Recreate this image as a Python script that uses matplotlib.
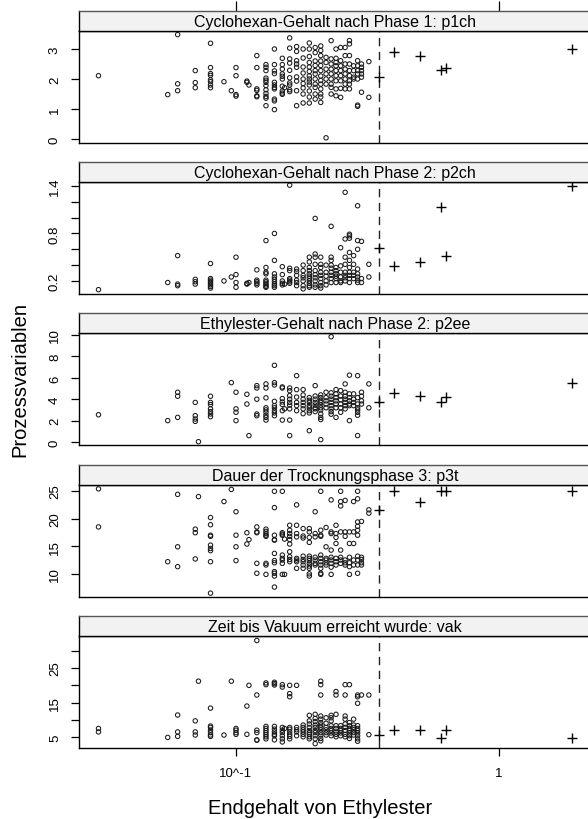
import numpy as np
import matplotlib
matplotlib.use("Agg")
import matplotlib.pyplot as plt

plt.rcParams['font.family'] = ['Liberation Sans', 'DejaVu Sans']

# x levels of "Endgehalt von Ethylester"
x_levels = [0.03, 0.055, 0.06, 0.07, 0.072, 0.08, 0.09, 0.096, 0.10, 0.11, 0.112,
            0.12, 0.13, 0.14, 0.15, 0.153, 0.16, 0.17, 0.18, 0.19, 0.20, 0.21,
            0.22, 0.23, 0.24, 0.25, 0.26, 0.27, 0.28, 0.29, 0.30, 0.32]
x_plus = [0.35, 0.40, 0.50, 0.60, 0.63, 1.9]
threshold = 0.35

p1ch = [[2.11], [1.48], [3.48, 1.84, 1.61], [2.28, 1.88, 1.71], [],
        [3.19, 2.38, 2.18, 2.12, 1.97, 1.91, 1.80, 1.71], [1.91], [1.61],
        [2.38, 2.11, 1.48, 1.43], [1.93, 1.89], [1.80],
        [2.78, 2.38, 1.67, 1.62, 1.44, 1.41],
        [2.48, 2.39, 2.28, 2.03, 1.96, 1.89, 1.78, 1.64, 1.52, 1.42, 1.36, 1.11],
        [3.00, 2.48, 2.27, 2.18, 1.89, 1.80, 1.72, 1.67, 1.33, 1.27, 0.98],
        [2.69, 2.48, 2.33, 2.17, 2.09, 2.00, 1.76, 1.60, 1.53, 1.49], [1.71],
        [3.37, 3.03, 2.67, 2.53, 2.29, 2.04, 1.87, 1.80, 1.64, 1.58],
        [3.08, 2.92, 2.61, 2.50, 2.39, 2.07, 1.93, 1.61, 1.11],
        [3.00, 2.70, 2.40, 2.20, 2.00, 1.85, 1.70, 1.50, 1.20],
        [3.20, 3.00, 2.75, 2.55, 2.40, 2.25, 2.10, 2.00, 1.90, 1.80, 1.60, 1.40, 1.20],
        [3.05, 2.88, 2.60, 2.45, 2.28, 2.17, 2.00, 1.83, 1.72, 1.50, 1.33],
        [3.10, 2.95, 2.78, 2.60, 2.45, 2.28, 2.10, 1.95, 1.83, 1.67, 1.50, 1.40, 1.22],
        [2.72, 2.55, 2.33, 2.17, 2.00, 1.83, 0.04],
        [3.28, 2.67, 2.50, 2.33, 2.17, 2.00, 1.83, 1.72, 1.50],
        [3.00, 2.69, 2.55, 2.44, 2.28, 2.11, 1.94, 1.67, 1.44],
        [3.05, 2.61, 2.44, 2.28, 2.11, 1.94, 1.69, 1.39],
        [3.05, 2.78, 2.50, 2.33, 2.17, 2.00, 1.83, 1.67],
        [3.28, 3.17, 2.78, 2.50, 2.28, 2.11, 1.94, 1.83, 1.67],
        [2.44, 2.28, 2.06, 2.00],
        [2.61, 2.44, 2.28, 2.17, 2.00, 1.13, 1.09],
        [2.50, 2.39, 2.28, 2.17, 2.06, 1.56],
        [2.58, 1.39]]
p1ch_plus = [2.06, 2.89, 2.76, 2.29, 2.36, 2.99]

p2ch = [[0.09], [0.18], [0.52, 0.16, 0.14], [0.22, 0.19, 0.16], [],
        [0.42, 0.23, 0.21, 0.19, 0.17, 0.15, 0.13, 0.11], [0.20], [0.25],
        [0.50, 0.28, 0.18, 0.12], [0.16, 0.17], [0.18],
        [0.34, 0.21, 0.19, 0.17, 0.15],
        [0.71, 0.37, 0.31, 0.29, 0.21, 0.19, 0.17, 0.15, 0.13, 0.12],
        [0.80, 0.46, 0.29, 0.25, 0.22, 0.19, 0.16, 0.14, 0.12],
        [0.38, 0.28, 0.20, 0.17, 0.15], [0.16],
        [1.41, 0.36, 0.33, 0.23, 0.21, 0.19, 0.17],
        [0.35, 0.32, 0.27, 0.21, 0.18, 0.14],
        [0.40, 0.33, 0.27, 0.24, 0.20, 0.14, 0.10],
        [0.50, 0.44, 0.37, 0.33, 0.29, 0.26, 0.23, 0.20, 0.17, 0.14, 0.12],
        [0.99, 0.54, 0.50, 0.41, 0.33, 0.28, 0.24, 0.20, 0.15, 0.12],
        [0.50, 0.41, 0.37, 0.31, 0.27, 0.23, 0.18, 0.14, 0.11],
        [0.40, 0.31, 0.26, 0.20, 0.15],
        [0.89, 0.50, 0.46, 0.40, 0.36, 0.31, 0.27, 0.23, 0.18],
        [0.37, 0.33, 0.29, 0.26, 0.23, 0.18],
        [0.62, 0.39, 0.31, 0.25, 0.20, 0.18],
        [1.32, 0.73, 0.50, 0.41, 0.31, 0.27, 0.24, 0.20],
        [0.79, 0.77, 0.74, 0.56, 0.46, 0.37, 0.31, 0.27, 0.23, 0.18],
        [0.52, 0.41, 0.31, 0.27, 0.23],
        [1.15, 0.71, 0.60, 0.35, 0.29, 0.25, 0.21, 0.18],
        [0.70, 0.23, 0.18],
        [0.41, 0.25]]
p2ch_plus = [0.62, 0.39, 0.44, 1.14, 0.52, 1.40]

p2ee = [[2.55], [2.0], [4.65, 4.28, 2.3], [3.7, 2.46, 2.15, 1.93], [0.03],
        [4.28, 3.7, 3.5, 3.1, 2.84, 2.62, 2.37], [], [5.55],
        [4.65, 3.1, 2.78, 2.0], [4.46, 3.55], [0.6],
        [5.27, 5.05, 4.0, 2.62, 2.46],
        [5.43, 5.05, 4.13, 3.2, 3.0, 2.78, 2.5, 2.3, 2.05],
        [7.17, 5.55, 5.33, 3.8, 3.4, 3.2, 2.93, 2.72, 2.46],
        [5.15, 5.05, 4.06, 3.74, 3.5, 2.93, 2.05], [3.1],
        [5.05, 4.8, 4.33, 4.0, 3.7, 3.45, 3.1, 2.05, 0.6],
        [6.2, 4.9, 4.2, 3.7, 3.4, 2.93],
        [4.9, 4.4, 4.0, 3.7, 3.4, 3.1, 2.65],
        [4.15, 3.9, 3.7, 3.4, 3.2, 2.93, 2.72, 1.06],
        [5.27, 4.3, 4.0, 3.7, 3.45, 3.2, 3.1, 2.84],
        [4.4, 4.15, 3.9, 3.7, 3.45, 3.2, 3.0, 2.62, 2.3, 2.1, 0.22],
        [4.65, 4.15, 3.85, 3.55, 3.2],
        [9.84, 4.6, 4.28, 4.0, 3.7, 3.4, 3.1, 2.84, 2.6],
        [4.9, 4.5, 4.15, 3.85, 3.55, 3.2, 2.3],
        [4.8, 4.3, 3.95, 3.55, 3.2, 2.78],
        [5.43, 4.65, 4.28, 4.0, 3.7, 3.4, 3.1],
        [6.25, 4.5, 4.15, 3.85, 3.55, 3.4, 2.0],
        [4.5, 4.0, 3.7, 3.4],
        [6.2, 4.15, 3.55, 3.2, 3.0, 2.78, 2.5, 0.6],
        [4.65, 4.28, 3.85, 3.55],
        [5.43, 3.2]]
p2ee_plus = [3.77, 4.55, 4.33, 3.77, 4.24, 5.55]

p3t = [[25.4, 18.5], [12.2], [24.4, 14.9, 11.3], [18.1, 17.45, 12.7], [24.0],
       [20.2, 18.9, 17.0, 16.8, 15.2, 14.6, 14.2, 12.2, 6.5], [23.1], [25.3],
       [21.25, 17.0, 14.9, 12.4], [17.45, 15.4], [16.2],
       [18.5, 17.6, 17.45, 11.9, 10.1],
       [18.1, 17.7, 17.3, 17.0, 16.8, 11.9, 11.6, 9.9],
       [24.96, 22.0, 17.0, 16.2, 16.1, 13.7, 12.4, 12.0, 10.4, 10.1, 9.6, 7.6],
       [24.96, 17.45, 17.2, 17.0, 13.4, 12.8, 12.5, 11.9, 9.9], [16.3, 9.9],
       [18.8, 17.9, 17.3, 16.8, 16.2, 15.4, 14.0, 13.1, 12.6, 12.2],
       [22.5, 18.8, 17.3, 16.7, 12.8, 12.5, 12.2, 11.0],
       [18.2, 16.85, 16.5, 13.2, 12.6, 12.2, 11.6, 11.0],
       [18.2, 17.6, 16.6, 15.7, 13.2, 12.8, 12.4, 11.9, 11.4, 11.0, 10.0, 9.6],
       [21.25, 17.3, 16.7, 13.0, 12.5, 11.9, 11.6],
       [24.96, 17.9, 17.0, 16.8, 13.4, 12.8, 12.2, 11.6, 11.0, 10.1, 9.9],
       [18.4, 14.9, 12.8, 12.5, 12.0, 11.6],
       [23.4, 17.6, 17.3, 14.3, 13.0, 12.5, 11.9, 11.2, 9.9],
       [18.8, 17.3, 16.6, 15.5, 12.8, 12.2, 11.6],
       [24.96, 23.1, 22.3, 17.6, 14.3, 13.0, 12.5, 11.9],
       [23.3, 17.6, 16.8, 12.5, 12.0, 11.6],
       [17.6, 15.5, 13.0, 12.0, 11.3, 9.9],
       [23.1, 17.6, 15.5, 12.5, 11.6],
       [24.96, 23.6, 19.4, 18.6, 17.9, 17.0, 13.2, 12.5, 11.6, 10.1],
       [19.5, 13.0, 12.6, 12.0, 11.6],
       [21.6, 21.0]]
p3t_plus = [21.6, 25.0, 22.95, 25.0, 25.0, 25.0]

vak = [[7.5, 6.5], [4.9], [11.4, 6.5, 5.2], [9.7, 6.5, 5.6], [21.2],
       [13.4, 8.2, 7.8, 7.0, 6.3, 5.6, 5.2], [5.6], [21.2],
       [7.5, 7.0, 6.3, 5.8], [14.0, 5.8], [20.0],
       [33.0, 17.2, 7.0, 6.3, 4.2, 4.1],
       [20.7, 20.2, 8.1, 7.5, 6.9, 6.3, 5.7, 5.1, 4.5],
       [20.9, 20.5, 20.1, 8.1, 7.3, 6.5, 5.8, 5.4, 4.2],
       [20.2, 19.5, 7.8, 7.0, 6.3, 5.4, 4.5, 3.6], [7.5],
       [20.0, 17.6, 16.7, 7.8, 7.3, 6.5, 5.8, 5.2, 4.5],
       [20.0, 7.8, 7.1, 6.5, 5.4],
       [8.5, 7.8, 7.1, 6.5, 5.8, 5.1],
       [11.3, 9.7, 8.8, 7.8, 6.9, 6.3, 5.8, 5.1, 4.5],
       [11.6, 10.4, 9.5, 8.5, 7.8, 6.9, 6.3, 5.4, 4.5, 3.1],
       [21.2, 20.2, 17.2, 11.1, 10.2, 9.2, 8.5, 7.8, 7.1, 6.3, 5.6, 4.6, 3.9],
       [10.6, 9.0, 7.8, 7.1, 6.3, 5.6],
       [11.3, 10.6, 9.7, 8.3, 7.5, 6.9, 6.2, 5.4],
       [18.2, 17.2, 11.6, 8.3, 7.5, 6.5, 5.8, 5.1],
       [8.3, 7.5, 6.9, 6.2, 5.4],
       [20.2, 17.2, 11.1, 10.2, 8.8, 7.8, 6.9, 5.8, 5.1],
       [20.2, 9.2, 8.3, 7.5, 6.9, 6.2, 5.4, 4.6],
       [10.2, 8.5, 7.8, 7.1, 6.3, 5.6],
       [17.2, 16.7, 14.8, 8.3, 7.5, 6.9, 6.2, 5.4, 4.5, 3.8],
       [17.2],
       [17.2, 5.7]]
vak_plus = [5.6, 7.0, 7.0, 4.7, 7.0, 4.7]

titles = ["Cyclohexan-Gehalt nach Phase 1: p1ch",
          "Cyclohexan-Gehalt nach Phase 2: p2ch",
          "Ethylester-Gehalt nach Phase 2: p2ee",
          "Dauer der Trocknungsphase 3: p3t",
          "Zeit bis Vakuum erreicht wurde: vak"]
panel_circles = [p1ch, p2ch, p2ee, p3t, vak]
panel_plus = [p1ch_plus, p2ch_plus, p2ee_plus, p3t_plus, vak_plus]
ylims = [(-0.133, 3.6), (0.035, 1.45), (-0.28, 10.19), (5.8, 26.1), (1.84, 34.3)]
yticks = [[0, 1, 2, 3], [0.2, 0.4, 0.6, 0.8, 1.0, 1.2, 1.4], [0, 2, 4, 6, 8, 10],
          [10, 15, 20, 25], [5, 10, 15, 20, 25, 30]]
yticklabels = [["0", "1", "2", "3"], ["0.2", "", "", "0.8", "", "", "1.4"],
               ["0", "2", "4", "6", "8", "10"], ["10", "15", "20", "25"],
               ["5", "", "15", "", "25", ""]]
xticks = [0.1, 1.0]
xticklabels = ["10^-1", "1"]

W, H = 588, 820
fig = plt.figure(figsize=(W / 100, H / 100), dpi=100)

left_px, right_px = 79, 591
strip_tops = [12, 163, 314, 466, 617]
strip_h = 20
plot_h = 112
xlim = (10 ** (-1 + (left_px - 236) / 263), 10 ** (-1 + (right_px - 236) / 263))

col = '#1a1a1a'
for i in range(5):
    st = strip_tops[i]
    pb = st + strip_h + plot_h
    ax = fig.add_axes([left_px / W, 1 - pb / H, (right_px - left_px) / W, plot_h / H])
    sax = fig.add_axes([left_px / W, 1 - (st + strip_h) / H, (right_px - left_px) / W, strip_h / H])

    xs, ys = [], []
    for xv, vals in zip(x_levels, panel_circles[i]):
        for v in vals:
            xs.append(xv)
            ys.append(v)
    ax.scatter(xs, ys, s=10, facecolors='none', edgecolors=col, linewidths=0.75, zorder=3)
    ax.scatter(x_plus, panel_plus[i], s=42, marker='+', c='black', linewidths=1.0, zorder=3)
    ax.axvline(threshold, color='#222222', lw=1.0, ls=(0, (6, 4)), zorder=2)

    ax.set_xscale('log')
    ax.set_xlim(*xlim)
    ax.set_ylim(*ylims[i])
    ax.set_yticks(yticks[i])
    ax.set_yticklabels(yticklabels[i], rotation=90, va='center', ha='right')
    ax.yaxis.set_minor_locator(matplotlib.ticker.NullLocator())
    ax.xaxis.set_minor_locator(matplotlib.ticker.NullLocator())
    ax.tick_params(axis='y', direction='out', length=6, width=0.9, labelsize=9.5, pad=7)
    if i == 4:
        ax.set_xticks(xticks)
        ax.set_xticklabels(xticklabels)
        ax.tick_params(axis='x', direction='out', length=6, width=0.9, labelsize=9.5, pad=8)
    else:
        ax.set_xticks([])
    for sp in ax.spines.values():
        sp.set_linewidth(1.0)
        sp.set_color('black')

    sax.set_facecolor('#f2f2f2')
    sax.set_xscale('log')
    sax.set_xlim(*xlim)
    sax.set_ylim(0, 1)
    sax.set_yticks([])
    if i == 0:
        sax.set_xticks(xticks)
        sax.set_xticklabels([])
        sax.xaxis.set_minor_locator(matplotlib.ticker.NullLocator())
        sax.tick_params(axis='x', which='both', top=True, bottom=False, labeltop=False,
                        labelbottom=False, direction='out', length=7, width=0.9)
    else:
        sax.set_xticks([])
        sax.xaxis.set_minor_locator(matplotlib.ticker.NullLocator())
    for sp in sax.spines.values():
        sp.set_linewidth(1.0)
        sp.set_color('black')
    sax.spines['top'].set_color('#555555')
    sax.text(0.5, 0.48, titles[i], transform=sax.transAxes, ha='center', va='center',
             fontsize=11.5, color='black')

fig.text(320 / W, 1 - 809 / H, "Endgehalt von Ethylester", ha='center', va='center', fontsize=14.5)
fig.text(20 / W, 1 - 380 / H, "Prozessvariablen", ha='center', va='center', rotation=90, fontsize=14.5)

fig.savefig("out.png", dpi=100)
